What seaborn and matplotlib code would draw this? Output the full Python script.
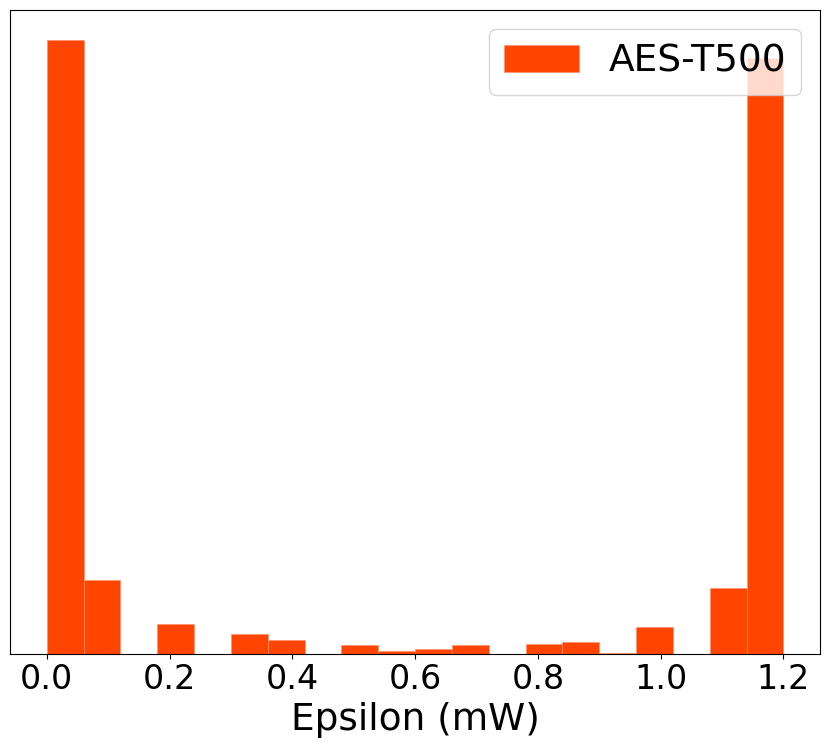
import numpy as np
import pandas as pd
import matplotlib
matplotlib.use("Agg")
import matplotlib.pyplot as plt
import seaborn as sns

# Histogram bins (0 to 1.2, width 0.06) and relative bar heights
bin_edges = np.round(np.arange(0, 1.2001, 0.06), 2)
bin_counts = [613, 74, 0, 30, 0, 20, 14, 0, 9, 3,
              5, 9, 0, 10, 12, 1, 27, 0, 66, 595]
series_name = "AES-T500"

bin_centers = (bin_edges[:-1] + bin_edges[1:]) / 2
df = pd.DataFrame({"Epsilon": bin_centers, "count": bin_counts})

fig, ax = plt.subplots(figsize=(8.31, 7.54), dpi=100)
sns.histplot(data=df, x="Epsilon", weights="count", bins=len(bin_counts),
             binrange=(bin_edges[0], bin_edges[-1]),
             color="orangered", alpha=1, edgecolor="#ff8f70", linewidth=0.4,
             label=series_name, ax=ax)

ax.set_yticks([])
ax.set_ylabel("")
ax.set_xlabel("Epsilon (mW)", fontsize=27)
ax.tick_params(axis="x", labelsize=24)
ax.legend(fontsize=27, loc="upper right")

plt.subplots_adjust(left=0.012, right=0.987, top=0.987, bottom=0.133)
plt.savefig("out.png", dpi=100)
